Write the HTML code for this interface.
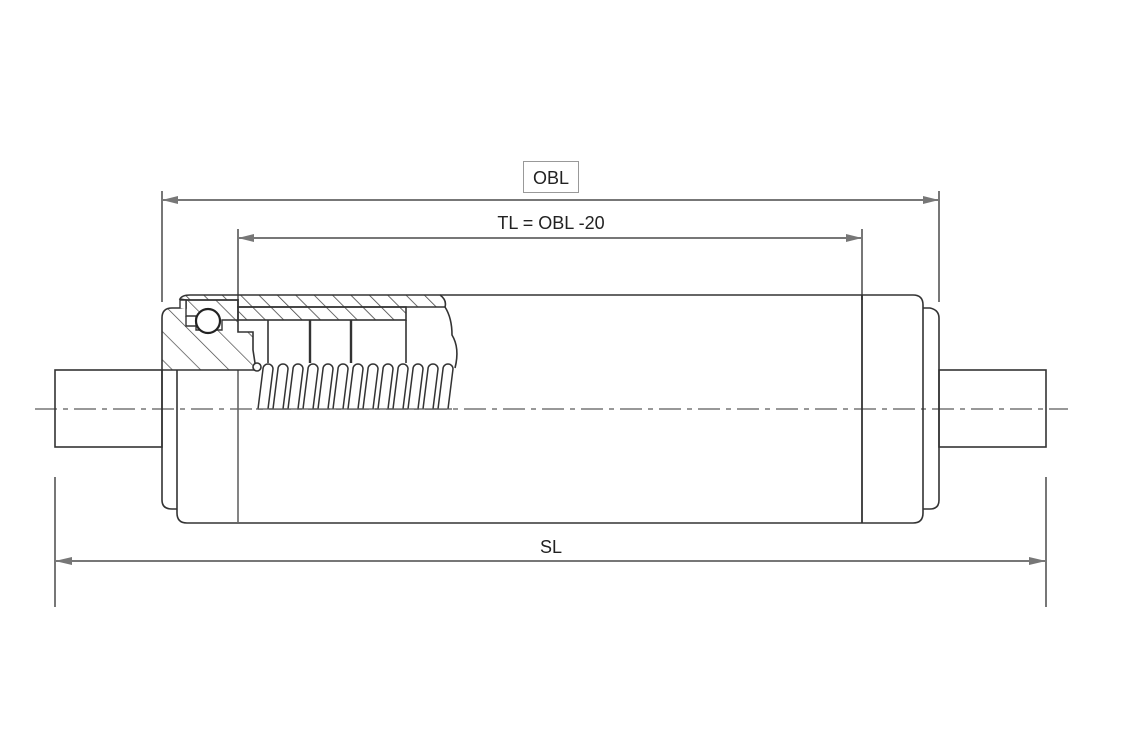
<!DOCTYPE html>
<html><head><style>html,body{margin:0;padding:0;background:#fff}svg{display:block}</style></head><body>
<svg width="1121" height="756" viewBox="0 0 1121 756" xmlns="http://www.w3.org/2000/svg" font-family="Liberation Sans, sans-serif">
<defs>
<pattern id="h" width="13" height="13" patternUnits="userSpaceOnUse" patternTransform="rotate(-45)">
<line x1="0" y1="0" x2="0" y2="13" stroke="#444" stroke-width="1.6"/></pattern>
<pattern id="hc" width="20" height="20" patternUnits="userSpaceOnUse" patternTransform="rotate(-45)">
<line x1="0" y1="0" x2="0" y2="20" stroke="#444" stroke-width="1.4"/></pattern>
</defs>
<g stroke="#777" stroke-width="2" fill="#777">
<line x1="162" y1="191" x2="162" y2="302"/>
<line x1="939" y1="191" x2="939" y2="302"/>
<line x1="162" y1="200" x2="939" y2="200"/>
<polygon points="162,200 178,196 178,204" stroke="none"/>
<polygon points="939,200 923,196 923,204" stroke="none"/>
<line x1="238" y1="229" x2="238" y2="300"/>
<line x1="862" y1="229" x2="862" y2="300"/>
<line x1="238" y1="238" x2="862" y2="238"/>
<polygon points="238,238 254,234 254,242" stroke="none"/>
<polygon points="862,238 846,234 846,242" stroke="none"/>
<line x1="55" y1="477" x2="55" y2="607"/>
<line x1="1046" y1="477" x2="1046" y2="607"/>
<line x1="55" y1="561" x2="1046" y2="561"/>
<polygon points="55,561 72,557 72,565" stroke="none"/>
<polygon points="1046,561 1029,557 1029,565" stroke="none"/>
</g>
<rect x="523.5" y="161.5" width="55" height="31" fill="none" stroke="#999" stroke-width="1"/>
<text x="551" y="184" font-size="18" text-anchor="middle" fill="#222">OBL</text>
<text x="551" y="229" font-size="18" text-anchor="middle" fill="#222">TL = OBL -20</text>
<text x="551" y="553" font-size="18" text-anchor="middle" fill="#222">SL</text>
<line x1="35" y1="409" x2="1068" y2="409" stroke="#777" stroke-width="1.5" stroke-dasharray="22,6,5,6"/>
<g fill="none" stroke="#333" stroke-width="1.6">
<rect x="55" y="370" width="107" height="77"/>
<rect x="939" y="370" width="107" height="77"/>
<path d="M162,370 V500 Q162,509 172,509 H177"/>
<path d="M923,308 H930 Q939,310 939,318 V500 Q939,509 930,509 H923"/>
<path d="M440,295 H913 Q923,295 923,305 V513 Q923,523 913,523 H187 Q177,523 177,513 V370"/>
<line x1="238" y1="370" x2="238" y2="523" stroke="#666"/>
<line x1="862" y1="295" x2="862" y2="523" stroke-width="1.8"/>
</g>
<!-- top shell band -->
<path d="M180,299 Q182,295 190,295 H440 Q447,300 445,307 H238 V300 H186 Z" fill="url(#h)" stroke="#333" stroke-width="1.6"/>
<!-- inner band -->
<rect x="238" y="307" width="168" height="13" fill="url(#h)" stroke="#333" stroke-width="1.6"/>
<!-- cap hatched -->
<path d="M162,370 V318 Q162,308 172,308 H186 V300 H238 V332 H253 V350 L255,363 V370 Z" fill="url(#hc)" stroke="#333" stroke-width="1.6"/>
<!-- seal pocket -->
<path d="M180,308 V300 H186 V316 H196 V330 H222 V320 H238" fill="#fff" stroke="#333" stroke-width="1.4"/>
<path d="M186,316 V326 H196" fill="none" stroke="#333" stroke-width="1.4"/>
<circle cx="208" cy="321" r="12" fill="#fff" stroke="#222" stroke-width="2.2"/>
<g stroke="#333" stroke-width="1.6" fill="none">
<line x1="268" y1="320" x2="268" y2="363"/>
<line x1="310" y1="320" x2="310" y2="363" stroke-width="2.4"/>
<line x1="351" y1="320" x2="351" y2="363" stroke-width="2.4"/>
<line x1="406" y1="320" x2="406" y2="363"/>
<path d="M445,307 Q452,318 452,335 Q460,348 455,368"/>
<circle cx="257" cy="367" r="4" fill="#fff"/>
</g>
<g stroke="#333" stroke-width="1.5" fill="#fff">
<path d="M258,409 L263,369 A5,5 0 0 1 273,369 L268,409"/>
<path d="M273,409 L278,369 A5,5 0 0 1 288,369 L283,409"/>
<path d="M288,409 L293,369 A5,5 0 0 1 303,369 L298,409"/>
<path d="M303,409 L308,369 A5,5 0 0 1 318,369 L313,409"/>
<path d="M318,409 L323,369 A5,5 0 0 1 333,369 L328,409"/>
<path d="M333,409 L338,369 A5,5 0 0 1 348,369 L343,409"/>
<path d="M348,409 L353,369 A5,5 0 0 1 363,369 L358,409"/>
<path d="M363,409 L368,369 A5,5 0 0 1 378,369 L373,409"/>
<path d="M378,409 L383,369 A5,5 0 0 1 393,369 L388,409"/>
<path d="M393,409 L398,369 A5,5 0 0 1 408,369 L403,409"/>
<path d="M408,409 L413,369 A5,5 0 0 1 423,369 L418,409"/>
<path d="M423,409 L428,369 A5,5 0 0 1 438,369 L433,409"/>
<path d="M438,409 L443,369 A5,5 0 0 1 453,369 L448,409"/>
</g>
<line x1="256" y1="409" x2="452" y2="409" stroke="#555" stroke-width="1.2"/>
</svg>
</body></html>
